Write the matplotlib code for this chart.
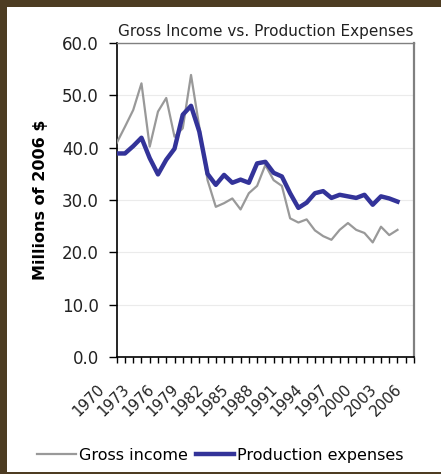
import numpy as np
import matplotlib
matplotlib.use('Agg')
import matplotlib.pyplot as plt
from matplotlib.patches import Rectangle
from matplotlib.transforms import ScaledTranslation

# 01 - Data (millions of 2006 $)
years = np.arange(1970, 2005)
gross_income = [40.9, 44.0, 47.2, 52.3, 40.2, 46.9, 49.5, 42.1, 43.7, 53.9,
                44.0, 33.8, 28.7, 29.4, 30.3, 28.2, 31.3, 32.7, 36.7, 33.8,
                32.7, 26.5, 25.7, 26.3, 24.2, 23.1, 22.4, 24.3, 25.6, 24.3,
                23.7, 21.9, 24.9, 23.3, 24.3]
production_expenses = [38.9, 38.9, 40.3, 41.9, 38.0, 34.9, 37.7, 39.8, 46.3, 48.0,
                       43.1, 35.0, 32.9, 34.8, 33.3, 33.9, 33.3, 37.0, 37.3, 35.2,
                       34.5, 31.3, 28.5, 29.5, 31.3, 31.7, 30.4, 31.0, 30.7, 30.4,
                       31.0, 29.1, 30.7, 30.3, 29.7]
label_years = np.arange(1970, 2007, 3)
y_ticks = np.arange(0, 61, 10)

# 02 - Figure with the brown frame around a white panel
fig = plt.figure(figsize=(4.41, 4.74), dpi=100)
fig.patch.set_facecolor('#4d3c22')
fig.patches.append(Rectangle((7 / 441, 2 / 474), 1, 465 / 474, transform=fig.transFigure,
                             facecolor='white', edgecolor='none', zorder=-10))

ax = fig.add_axes([0.2646, 0.2468, 0.6742, 0.6624])
ax.set_facecolor('white')

ax.plot(years, gross_income, color='#999999', lw=1.6, label='Gross income', zorder=3)
ax.plot(years, production_expenses, color='#333399', lw=3.2, label='Production expenses',
        zorder=4, solid_joinstyle='round')

# 03 - Axes styling
ax.set_xlim(1970, 2006)
ax.set_ylim(0, 60)
ax.set_yticks(y_ticks)
ax.set_yticklabels([f'{v:.1f}' for v in y_ticks], fontsize=12, color='#222222')
ax.set_xticks(np.arange(1970, 2007, 1))
ax.set_xticklabels([])
# rotated year labels, shifted down-left like the Excel original
lab_trans = ax.get_xaxis_transform() + ScaledTranslation(-0.2, -0.25, fig.dpi_scale_trans)
for y in label_years:
    ax.text(y, 0, str(y), transform=lab_trans, fontsize=10.8, color='#222222',
            rotation=45, ha='right', va='top', rotation_mode='anchor', clip_on=False)
ax.tick_params(axis='x', direction='out', length=4, width=1, color='black', pad=2)
ax.tick_params(axis='y', direction='out', length=6, width=1, color='black', pad=7)

ax.grid(axis='y', color='#ebebeb', lw=0.8)
ax.set_axisbelow(True)
ax.spines['left'].set_color('black')
ax.spines['bottom'].set_color('black')
ax.spines['left'].set_linewidth(1.2)
ax.spines['bottom'].set_linewidth(1.2)
ax.spines['right'].set_color('#808080')
ax.spines['top'].set_color('#808080')
ax.spines['right'].set_linewidth(1.6)
ax.spines['top'].set_linewidth(1.0)

ax.set_ylabel('Millions of 2006 $', fontsize=11.5, fontweight='bold', labelpad=10)
ax.set_title('Gross Income vs. Production Expenses', fontsize=11, color='#222222', pad=5)

fig.legend(loc='center', bbox_to_anchor=(0.5, 0.04), ncol=2, frameon=False,
           fontsize=11.5, handlelength=2.4, handletextpad=0.2, columnspacing=0.5)

fig.savefig('out.png', dpi=100, facecolor=fig.get_facecolor())
